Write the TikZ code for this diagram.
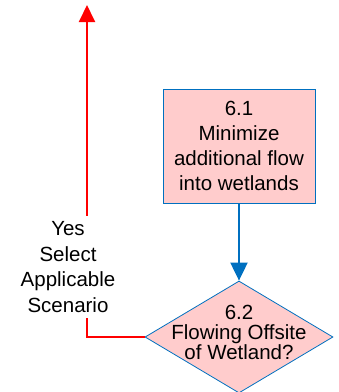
\documentclass[tikz,border=0pt]{standalone}
\usepackage{fontspec}
\setmainfont{Liberation Sans}
\usetikzlibrary{shapes.geometric,arrows.meta}

\definecolor{boxpink}{RGB}{255,204,204}
\definecolor{boxblue}{RGB}{0,112,192}
\definecolor{yesred}{RGB}{255,0,0}

\tikzset{
  stepbox/.style={draw=boxblue, line width=0.9pt, fill=boxpink, minimum width=152pt,
    minimum height=114pt, inner sep=0pt, align=center,
    font=\fontsize{20.5pt}{25pt}\selectfont},
  decide/.style={diamond, draw=boxblue, line width=0.8pt, fill=boxpink, minimum width=188pt,
    minimum height=112pt, inner sep=0pt},
  decidetext/.style={align=center, inner sep=0pt, font=\fontsize{20.5pt}{20pt}\selectfont},
  bluearrow/.style={draw=boxblue, line width=2pt, -{Triangle[width=17pt,length=18pt]}},
  redarrow/.style={draw=yesred, line width=2pt, -{Triangle[width=16pt,length=17pt]}},
  yeslabel/.style={fill=white, align=center, inner xsep=1pt, inner ysep=6pt,
    font=\fontsize{20.5pt}{25.5pt}\selectfont}
}

\begin{document}
\begin{tikzpicture}[x=1pt,y=-1pt]

\useasboundingbox (0,0) rectangle (339,392);

%% boxes
\node[stepbox] (s61) at (239,146) {6.1\\Minimize\\additional flow\\into wetlands};
\node[decide] (q62) at (239,337) {};
\node[decidetext] (q62t) at (239,332) {6.2\\Flowing Offsite\\of Wetland?};

%% arrows
\coordinate (yestop) at (87,5);
\draw[bluearrow] (s61.south) -- (q62.north);
\draw[redarrow] (q62.west) -| (yestop);
\node[yeslabel] (yes) at (68,267) {Yes\\Select\\Applicable\\Scenario};

\end{tikzpicture}
\end{document}
